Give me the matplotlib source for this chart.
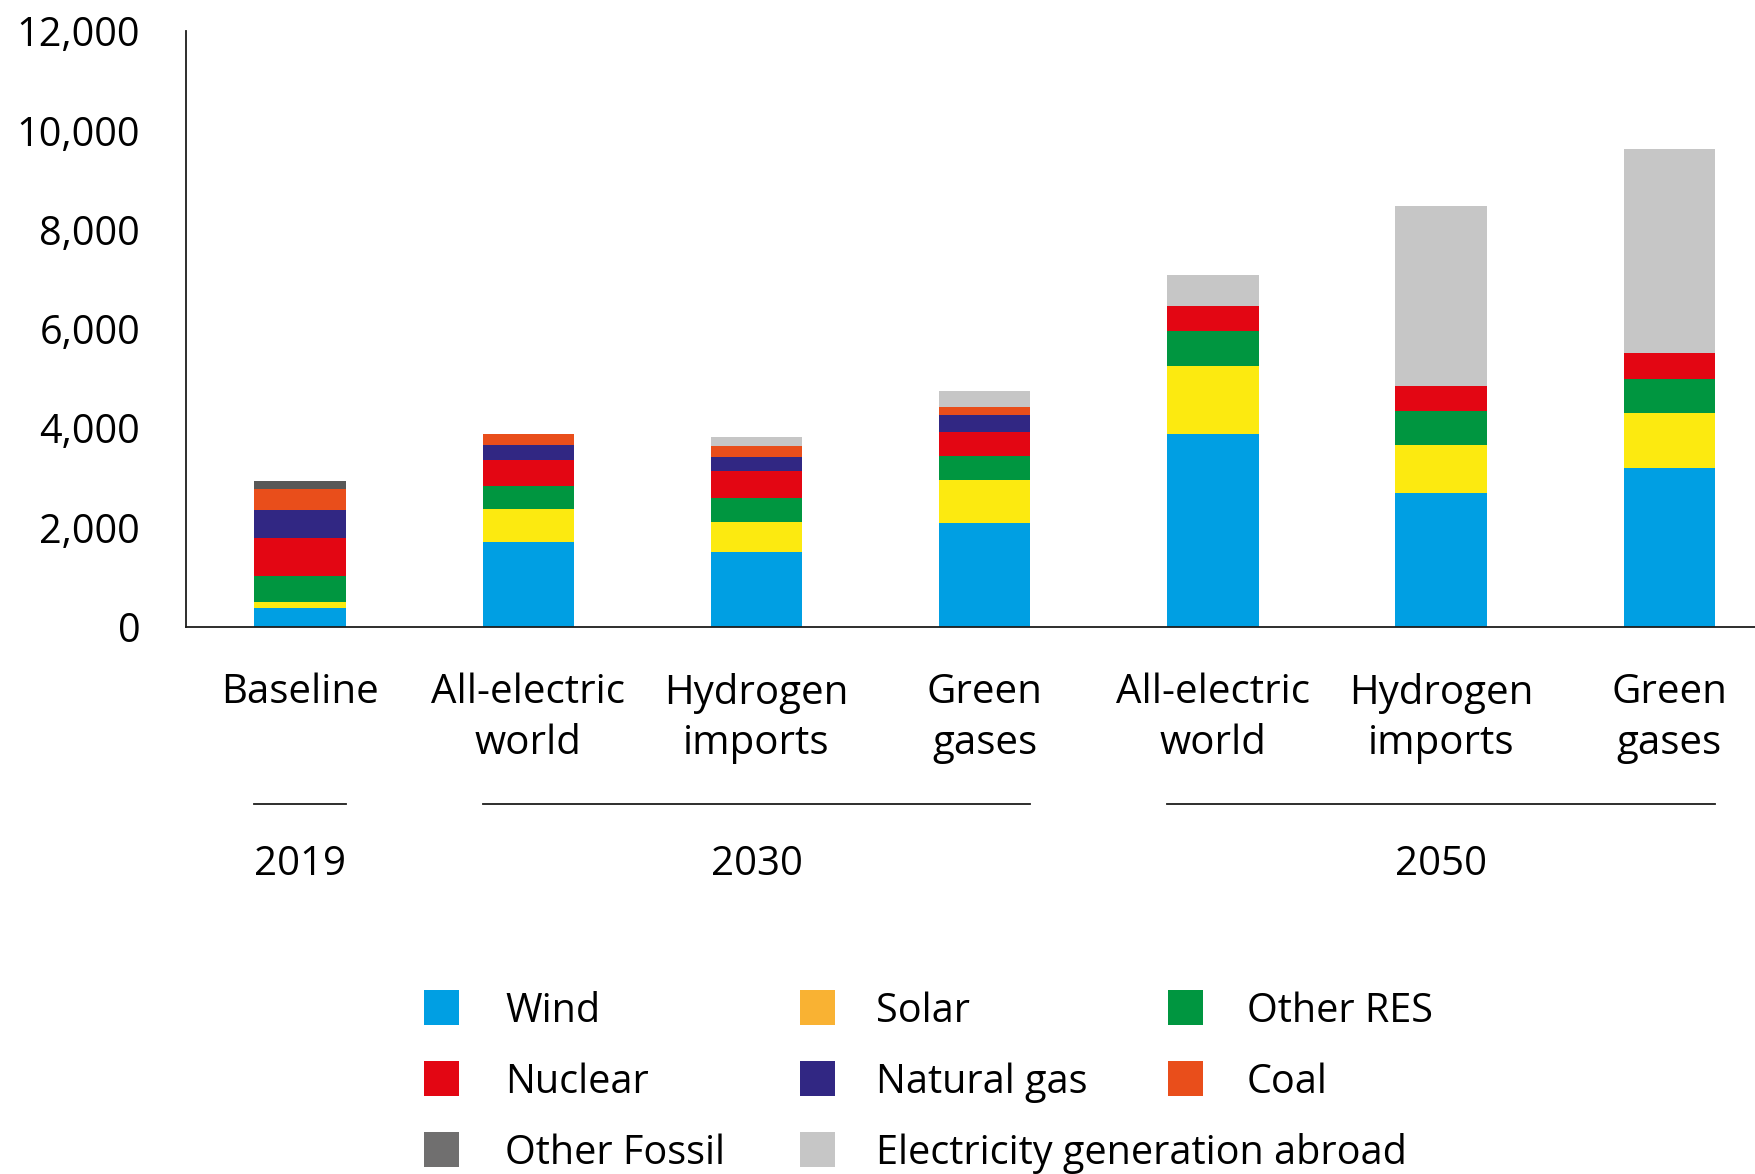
import matplotlib
matplotlib.use("Agg")
import matplotlib.pyplot as plt
from matplotlib.patches import Rectangle
import numpy as np

plt.rcParams['font.family'] = ['Open Sans', 'DejaVu Sans']

# scenarios (x axis) and generation by source
scenarios = ["Baseline", "All-electric\nworld", "Hydrogen\nimports", "Green\ngases",
             "All-electric\nworld", "Hydrogen\nimports", "Green\ngases"]
years = ["2019", "2030", "2050"]
year_groups = [(0, 0), (1, 3), (4, 6)]  # first and last scenario of each year

wind = [377, 1708, 1506, 2091, 3885, 2696, 3200]
solar = [121, 665, 605, 867, 1371, 967, 1108]
other_res = [524, 464, 490, 483, 706, 686, 686]
nuclear = [766, 524, 538, 484, 504, 504, 524]
natural_gas = [565, 302, 282, 343, 0, 0, 0]
coal = [423, 222, 222, 161, 0, 0, 0]
other_fossil = [161, 0, 0, 0, 0, 0, 0]
abroad = [0, 0, 182, 323, 624, 3629, 4113]

y_ticks = [0, 2000, 4000, 6000, 8000, 10000, 12000]

series = [
    ("Wind", wind, "#009FE3", "#009FE3"),
    ("Solar", solar, "#FCEA10", "#F9B233"),
    ("Other RES", other_res, "#009640", "#009640"),
    ("Nuclear", nuclear, "#E30613", "#E30613"),
    ("Natural gas", natural_gas, "#312783", "#312783"),
    ("Coal", coal, "#E94E1B", "#E94E1B"),
    ("Other Fossil", other_fossil, "#585857", "#706F6F"),
    ("Electricity generation abroad", abroad, "#C6C6C6", "#C6C6C6"),
]

fig = plt.figure(figsize=(17.56, 11.74), dpi=100)
ax = fig.add_axes([0.1059, 0.4662, 0.8941, 0.5074])

x = np.arange(len(scenarios))
bar_w = 0.4
bottom = np.zeros(len(scenarios))
for name, vals, col, _ in series:
    ax.bar(x, vals, bar_w, bottom=bottom, color=col, linewidth=0)
    bottom += np.array(vals)

ax.set_xlim(-0.5, 6.38)
ax.set_ylim(0, 12000)
ax.set_yticks(y_ticks)
ax.set_yticklabels([f"{v:,}" for v in y_ticks])
ax.set_xticks(x)
ax.set_xticklabels(scenarios, linespacing=1.34)
ax.tick_params(axis='y', length=0, pad=33, labelsize=28.5)
ax.tick_params(axis='x', length=0, pad=33, labelsize=29)
for s in ['top', 'right']:
    ax.spines[s].set_visible(False)
for s in ['left', 'bottom']:
    ax.spines[s].set_linewidth(1.3)
    ax.spines[s].set_color('#1d1d1b')

# year brackets below the scenario names
trans = ax.get_xaxis_transform()
for (a, b), yr in zip(year_groups, years):
    ax.plot([a - bar_w / 2, b + bar_w / 2], [-0.298, -0.298], color='#1d1d1b',
            lw=1.3, transform=trans, clip_on=False)
    ax.text((a + b) / 2, -0.399, yr, transform=trans, ha='center', va='center',
            fontsize=29)

# legend, three per row (pixel positions)
col_x = [424, 800, 1168]
text_x = [505, 876, 1247]
row_y = [1007, 1078, 1149]
W, H = 1756, 1174
box = 35
for i, (name, _, _, lcol) in enumerate(series):
    r, c = divmod(i, 3)
    x0 = col_x[c] / W
    yc = 1 - row_y[r] / H
    fig.patches.append(Rectangle((x0, yc - box / 2 / H), box / W, box / H,
                                 transform=fig.transFigure, color=lcol, lw=0))
    fig.text(text_x[c] / W, yc, name, ha='left', va='center_baseline',
             fontsize=28.5)

fig.savefig("out.png", dpi=100)
